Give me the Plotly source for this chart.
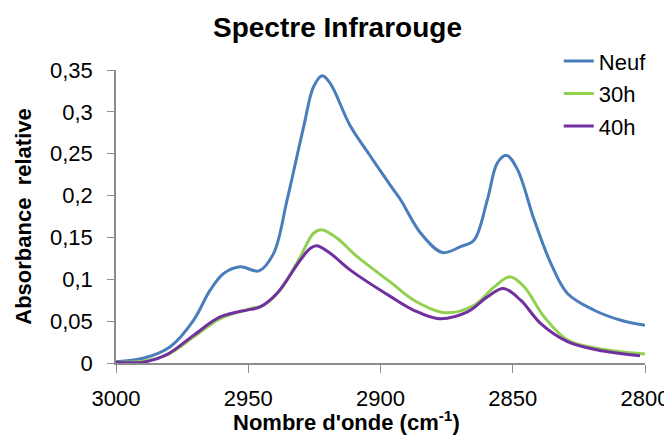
import plotly.graph_objects as go

x_neuf = [3000, 2989.7, 2979.5, 2970.7, 2964.4, 2959.3, 2953, 2946, 2940.4, 2935.3, 2929, 2925.3, 2922,
          2919, 2911.4, 2903.8, 2896, 2892.4, 2884.8, 2876.6, 2869.7, 2864.6, 2859.6, 2855.8, 2852.3,
          2848.2, 2841.9, 2835.6, 2829.3, 2819.2, 2809.1, 2800]
y_neuf = [0.0015, 0.0056, 0.0195, 0.051, 0.087, 0.107, 0.115, 0.110, 0.131, 0.195, 0.283, 0.330, 0.343,
          0.334, 0.283, 0.247, 0.211, 0.195, 0.155, 0.132, 0.139, 0.147, 0.195, 0.239, 0.248,
          0.231, 0.171, 0.119, 0.083, 0.063, 0.051, 0.045]

x_30h = [3000, 2989.7, 2980.8, 2970.7, 2960.6, 2949.2, 2944.2, 2937.9, 2930.3, 2925.3, 2922, 2916.4,
         2908.8, 2896, 2887.4, 2875.4, 2864.6, 2857, 2851, 2845.7, 2838.1, 2829.3, 2817.9, 2800]
y_30h = [0.001, 0.002, 0.0096, 0.031, 0.053, 0.065, 0.069, 0.087, 0.127, 0.155, 0.159, 0.149,
         0.127, 0.096, 0.075, 0.060, 0.069, 0.091, 0.103, 0.091, 0.055, 0.0275, 0.0175, 0.0108]

x_40h = [3000, 2989.7, 2980.8, 2970.7, 2960.6, 2949.2, 2945.5, 2939.2, 2930.3, 2926.5, 2924, 2919,
         2911.4, 2896, 2887.4, 2877.9, 2867.1, 2859.6, 2853.5, 2847, 2839.4, 2829.3, 2817.9, 2801.9]
y_40h = [0.001, 0.001, 0.010, 0.033, 0.055, 0.064, 0.067, 0.083, 0.123, 0.137, 0.140, 0.131,
         0.111, 0.079, 0.063, 0.053, 0.061, 0.079, 0.089, 0.075, 0.047, 0.0255, 0.0155, 0.0087]

series = [("Neuf", x_neuf, y_neuf, "#4a7ebb"),
          ("30h", x_30h, y_30h, "#92d050"),
          ("40h", x_40h, y_40h, "#7030a0")]

fig = go.Figure()
for name, xs, ys, col in series:
    fig.add_trace(go.Scatter(x=xs, y=ys, name=name, mode="lines", legendgroup=name,
                             line=dict(color=col, width=3, shape="spline", smoothing=1)))

# the page puts the figure 8px from the top-left corner, so margins are shifted by 8
axis_col = "#8c8c8c"
fig.update_layout(
    width=672, height=435,
    margin=dict(l=108, r=35, t=62, b=80),
    paper_bgcolor="white", plot_bgcolor="white",
    font=dict(family="Liberation Sans, Arial", size=22, color="black"),
    separators=", ",
    title=dict(text="<b>Spectre Infrarouge</b>", x=329.5 / 672, xref="container", xanchor="center",
               y=1 - 19.5 / 435, yanchor="middle", font=dict(size=28)),
    showlegend=True,
    legend=dict(x=0.837, y=1.102, xanchor="left", yanchor="top", bgcolor="rgba(0,0,0,0)",
                tracegroupgap=1, font=dict(size=22)),
    xaxis=dict(range=[3000, 2800], tickvals=[3000, 2950, 2900, 2850, 2800], showgrid=False,
               zeroline=False, showline=True, linecolor=axis_col, linewidth=1.5, automargin=False,
               ticks="outside", ticklen=8, tickcolor=axis_col, ticklabelstandoff=7),
    yaxis=dict(range=[0, 0.35], tickvals=[0, 0.05, 0.1, 0.15, 0.2, 0.25, 0.3, 0.35], showgrid=False,
               zeroline=False, showline=True, linecolor=axis_col, linewidth=1.5, automargin=False,
               ticks="outside", ticklen=7, tickcolor=axis_col, ticklabelstandoff=10,
               title=dict(text="<b>Absorbance  relative</b>", font=dict(size=22), standoff=12)),
)
# x axis title sits left of the plot centre in the original
fig.add_annotation(text="<b>Nombre d'onde (cm<sup>-1</sup>)</b>", xref="paper", yref="paper",
                   x=0.435, y=-0.198, xanchor="center", yanchor="middle", showarrow=False,
                   font=dict(size=22))

fig.write_html("out.html")
